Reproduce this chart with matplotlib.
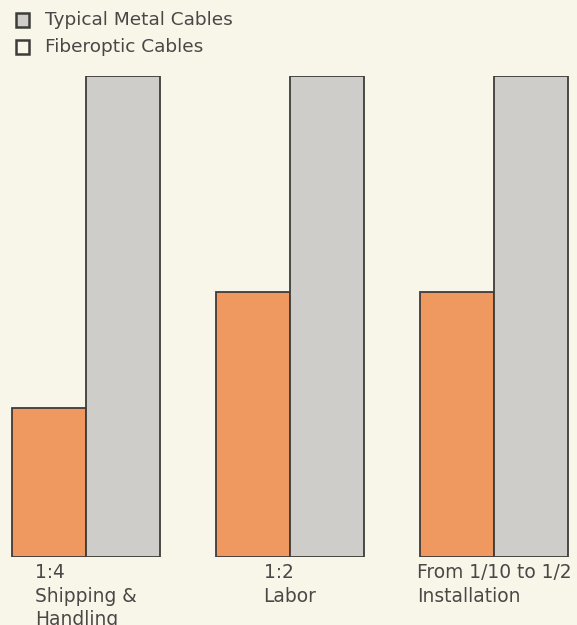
import matplotlib
matplotlib.use("Agg")
import matplotlib.pyplot as plt
from matplotlib.patches import Rectangle
import numpy as np

# Relative cost comparison, fiberoptic vs. typical metal cables
categories = ["1:4\nShipping &\nHandling", "1:2\nLabor", "From 1/10 to 1/2\nInstallation"]
fiber_cost = [31, 55, 55]
metal_cost = [100, 100, 100]
legend_labels = ["Typical Metal Cables", "Fiberoptic Cables"]

W, H = 577, 625
BG = "#f8f5e9"
ORANGE = "#ef9860"
GRAY = "#cfcdca"
EDGE = "#3e3c3a"
TEXT = "#4a4846"

plt.rcParams["font.family"] = ["DejaVu Sans"]

fig = plt.figure(figsize=(W / 100, H / 100), dpi=100, facecolor=BG)

# axes spans the plotting band: baseline at y=557 px, full-height bars at y=76 px
ax_bottom = (H - 557) / H
ax_height = (557 - 76) / H
ax = fig.add_axes([0, ax_bottom, 1, ax_height])
ax.set_facecolor("none")

group_px = 204.0          # spacing between groups, pixels
first_px = 86.0           # centre of the first group, pixels
bar_w = 74.0 / group_px   # bar width in data units

x = np.arange(len(categories))
ax.bar(x - bar_w / 2, fiber_cost, width=bar_w, color=ORANGE,
       edgecolor=EDGE, linewidth=1.3)
ax.bar(x + bar_w / 2, metal_cost, width=bar_w, color=GRAY,
       edgecolor=EDGE, linewidth=1.3)

ax.set_xlim(-first_px / group_px, (W - first_px) / group_px)
ax.set_ylim(0, 100)
ax.axis("off")

# category captions below each pair of bars
for xi, label in zip(x, categories):
    ax.annotate(label, xy=(xi, 0), xycoords="data",
                xytext=(0, -6), textcoords="offset pixels",
                ha="center", va="top", multialignment="left",
                fontsize=13.4, color=TEXT, linespacing=1.3,
                annotation_clip=False)

# legend keys drawn in figure pixel space
legend_fills = [GRAY, BG]
row_y = [20, 47]
for lbl, fill, cy in zip(legend_labels, legend_fills, row_y):
    sq = 13
    fig.add_artist(Rectangle((16 / W, 1 - (cy + sq / 2) / H), sq / W, sq / H,
                             transform=fig.transFigure, facecolor=fill,
                             edgecolor=EDGE, linewidth=1.8))
    fig.text(45 / W, 1 - cy / H, lbl, ha="left", va="center",
             fontsize=13.3, color=TEXT)

fig.savefig("out.png", dpi=100, facecolor=BG)
